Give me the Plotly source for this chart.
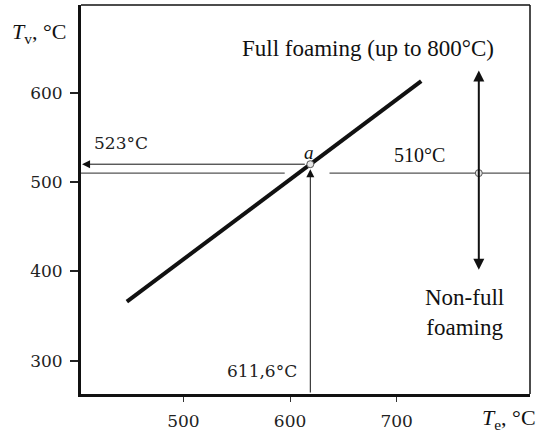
import plotly.graph_objects as go

# ---- data ----
x_range = [404, 825]
y_range = [262.6, 698.3]
x_ticks = [500, 600, 700]
y_ticks = [300, 400, 500, 600]

te_line = [447, 723]          # T_e of the relation line
tv_line = [366, 613]          # T_v of the relation line

a_te = 619                    # point a (611,6 °C / 523 °C)
a_tv = 520

level_tv = 510                # 510 °C level
level_left = [404, 595]
level_right = [637, 825]

div_te = 777                  # dividing double arrow
div_low, div_high = 400, 625

label_523 = "523°C"
label_510 = "510°C"
label_611 = "611,6°C"

serif = "Liberation Serif"
tickfont = "DejaVu Serif"

fig = go.Figure()

# relation line
fig.add_trace(go.Scatter(x=te_line, y=tv_line, mode="lines",
                         line=dict(color="#111", width=4), hoverinfo="skip"))
# 510 level line (two segments)
fig.add_trace(go.Scatter(x=level_left, y=[level_tv, level_tv], mode="lines",
                         line=dict(color="#555", width=1.2), hoverinfo="skip"))
fig.add_trace(go.Scatter(x=level_right, y=[level_tv, level_tv], mode="lines",
                         line=dict(color="#555", width=1.2), hoverinfo="skip"))

# arrows
arrow_common = dict(xref="x", yref="y", axref="x", ayref="y", text="",
                    showarrow=True, arrowcolor="#111")
# left arrow from a to the T_v axis
fig.add_annotation(x=x_range[0] + 1, y=a_tv, ax=a_te, ay=a_tv,
                   arrowhead=2, arrowsize=1.6, arrowwidth=1, startstandoff=4,
                   **arrow_common)
# vertical arrow from T_e axis up to a
fig.add_annotation(x=a_te, y=a_tv, ax=a_te, ay=y_range[0],
                   arrowhead=2, arrowsize=1.6, arrowwidth=1, standoff=5,
                   **arrow_common)
# double arrow
fig.add_annotation(x=div_te, y=div_high, ax=div_te, ay=div_low,
                   arrowhead=2, startarrowhead=2, arrowside="end+start",
                   arrowsize=1.1, startarrowsize=1.1, arrowwidth=2,
                   **arrow_common)

# markers
fig.add_trace(go.Scatter(x=[a_te, div_te], y=[a_tv, level_tv], mode="markers",
                         marker=dict(size=7, color="#e6e6e6",
                                     line=dict(color="#555", width=1)),
                         hoverinfo="skip"))

# text labels
fig.add_annotation(x=673, y=650, text="Full foaming (up to 800°C)", showarrow=False,
                   font=dict(family=serif, size=23, color="#111"))
fig.add_annotation(x=764, y=354, text="Non-full<br>foaming", showarrow=False,
                   font=dict(family=serif, size=23, color="#111"), align="center")
fig.add_annotation(x=721.4, y=530, text=label_510, showarrow=False,
                   font=dict(family=serif, size=20, color="#111"))
fig.add_annotation(x=441.6, y=544, text=label_523, showarrow=False,
                   font=dict(family=tickfont, size=17, color="#222"))
fig.add_annotation(x=573.8, y=288.5, text=label_611, showarrow=False,
                   font=dict(family=tickfont, size=17, color="#222"))
fig.add_annotation(x=a_te - 1, y=533, text="<i>a</i>", showarrow=False,
                   font=dict(family=serif, size=19, color="#111"))

# axis titles
fig.add_annotation(xref="paper", yref="paper", x=-0.158, y=0.968, xanchor="left",
                   text="<i>T</i><sub>v</sub>, °C", showarrow=False,
                   font=dict(family=serif, size=22, color="#111"))
fig.add_annotation(xref="paper", yref="paper", x=1.017, y=-0.106, xanchor="right",
                   text="<i>T</i><sub>e</sub>, °C", showarrow=False,
                   font=dict(family=serif, size=22, color="#111"))

# top / right frame
fig.add_shape(type="line", xref="paper", yref="paper", x0=0, x1=1, y0=1, y1=1,
              line=dict(color="#111", width=1.5))
fig.add_shape(type="line", xref="paper", yref="paper", x0=1, x1=1, y0=0, y1=1,
              line=dict(color="#111", width=1.5))

fig.update_layout(
    width=538, height=440,
    margin=dict(l=81, r=8, t=5, b=46),
    paper_bgcolor="white", plot_bgcolor="white",
    showlegend=False,
    xaxis=dict(range=x_range, tickvals=x_ticks, showgrid=False, zeroline=False,
               showline=True, linewidth=3, linecolor="#111",
               ticks="outside", ticklen=5, tickwidth=1, tickcolor="#333",
               ticklabelstandoff=5,
               tickfont=dict(family=tickfont, size=17, color="#222")),
    yaxis=dict(range=y_range, tickvals=y_ticks, showgrid=False, zeroline=False,
               showline=True, linewidth=3, linecolor="#111",
               ticks="outside", ticklen=8, tickwidth=1.5, tickcolor="#222",
               ticklabelstandoff=4,
               tickfont=dict(family=tickfont, size=17, color="#222")),
)

fig.write_html("out.html", config={"displayModeBar": False},
               post_script="document.body.style.margin='0';document.body.style.overflow='hidden';")
